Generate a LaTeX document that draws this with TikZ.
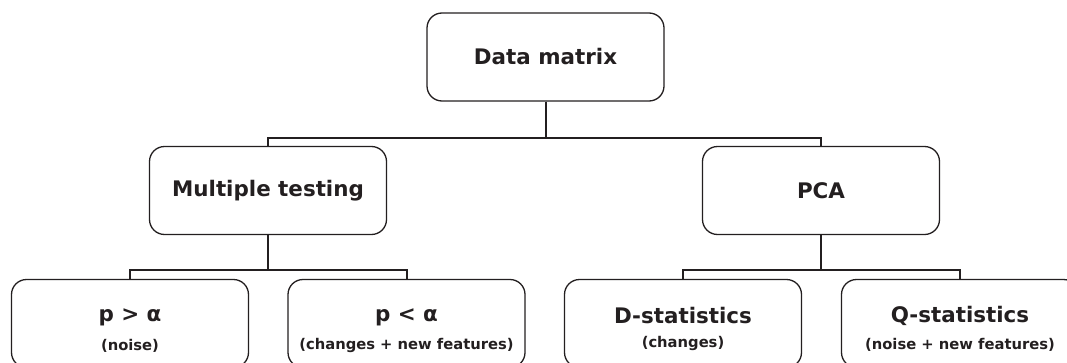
\documentclass[tikz,border=0pt]{standalone}
\usepackage{fontspec}
\setmainfont{DejaVu Sans}
\usepackage{tikz}
\usetikzlibrary{positioning}
\definecolor{ink}{HTML}{231F20}
\newcommand{\headfont}{\fontsize{21.5}{25}\selectfont\bfseries}
\newcommand{\notefont}{\fontsize{14.8}{17}\selectfont\bfseries}

\begin{document}
\begin{tikzpicture}[
  box/.style={draw=ink,text=ink,line width=1.3bp,rounded corners=15bp,
    minimum width=237bp,minimum height=88bp,align=center,inner sep=0pt},
  link/.style={draw=ink,line width=2bp}]

\useasboundingbox (0bp,0bp) rectangle (1067bp,-363bp);
\clip (0bp,0bp) rectangle (1067bp,-363bp);

\node (DM) at (545.5bp,-57bp)[box] {\headfont Data matrix};
\node (MT) at (268bp,-190.5bp)[box] {\headfont Multiple testing};
\node (PCA) at (821bp,-190.5bp)[box] {\headfont PCA};
\node (PG) at (130bp,-323.5bp)[box] {\headfont\rule{0pt}{27bp}p > α\\[12bp]\notefont (noise)};
\node (PL) at (406.5bp,-323.5bp)[box] {\headfont\rule{0pt}{27bp}p < α\\[12bp]\notefont (changes + new features)};
\node (DS) at (683bp,-323.5bp)[box] {\headfont\rule{0pt}{27bp}D-statistics\\[12bp]\notefont (changes)};
\node (QS) at (960bp,-323.5bp)[box] {\headfont\rule{0pt}{27bp}Q-statistics\\[12bp]\notefont (noise + new features)};

\draw [link] (DM.south) -- ++(0,-36bp) -| (MT.north);
\draw [link] (DM.south) -- ++(0,-36bp) -| (PCA.north);
\draw [link] (MT.south) -- ++(0,-35bp) -| (PG.north);
\draw [link] (MT.south) -- ++(0,-35bp) -| (PL.north);
\draw [link] (PCA.south) -- ++(0,-35bp) -| (DS.north);
\draw [link] (PCA.south) -- ++(0,-35bp) -| (QS.north);
\end{tikzpicture}
\end{document}
